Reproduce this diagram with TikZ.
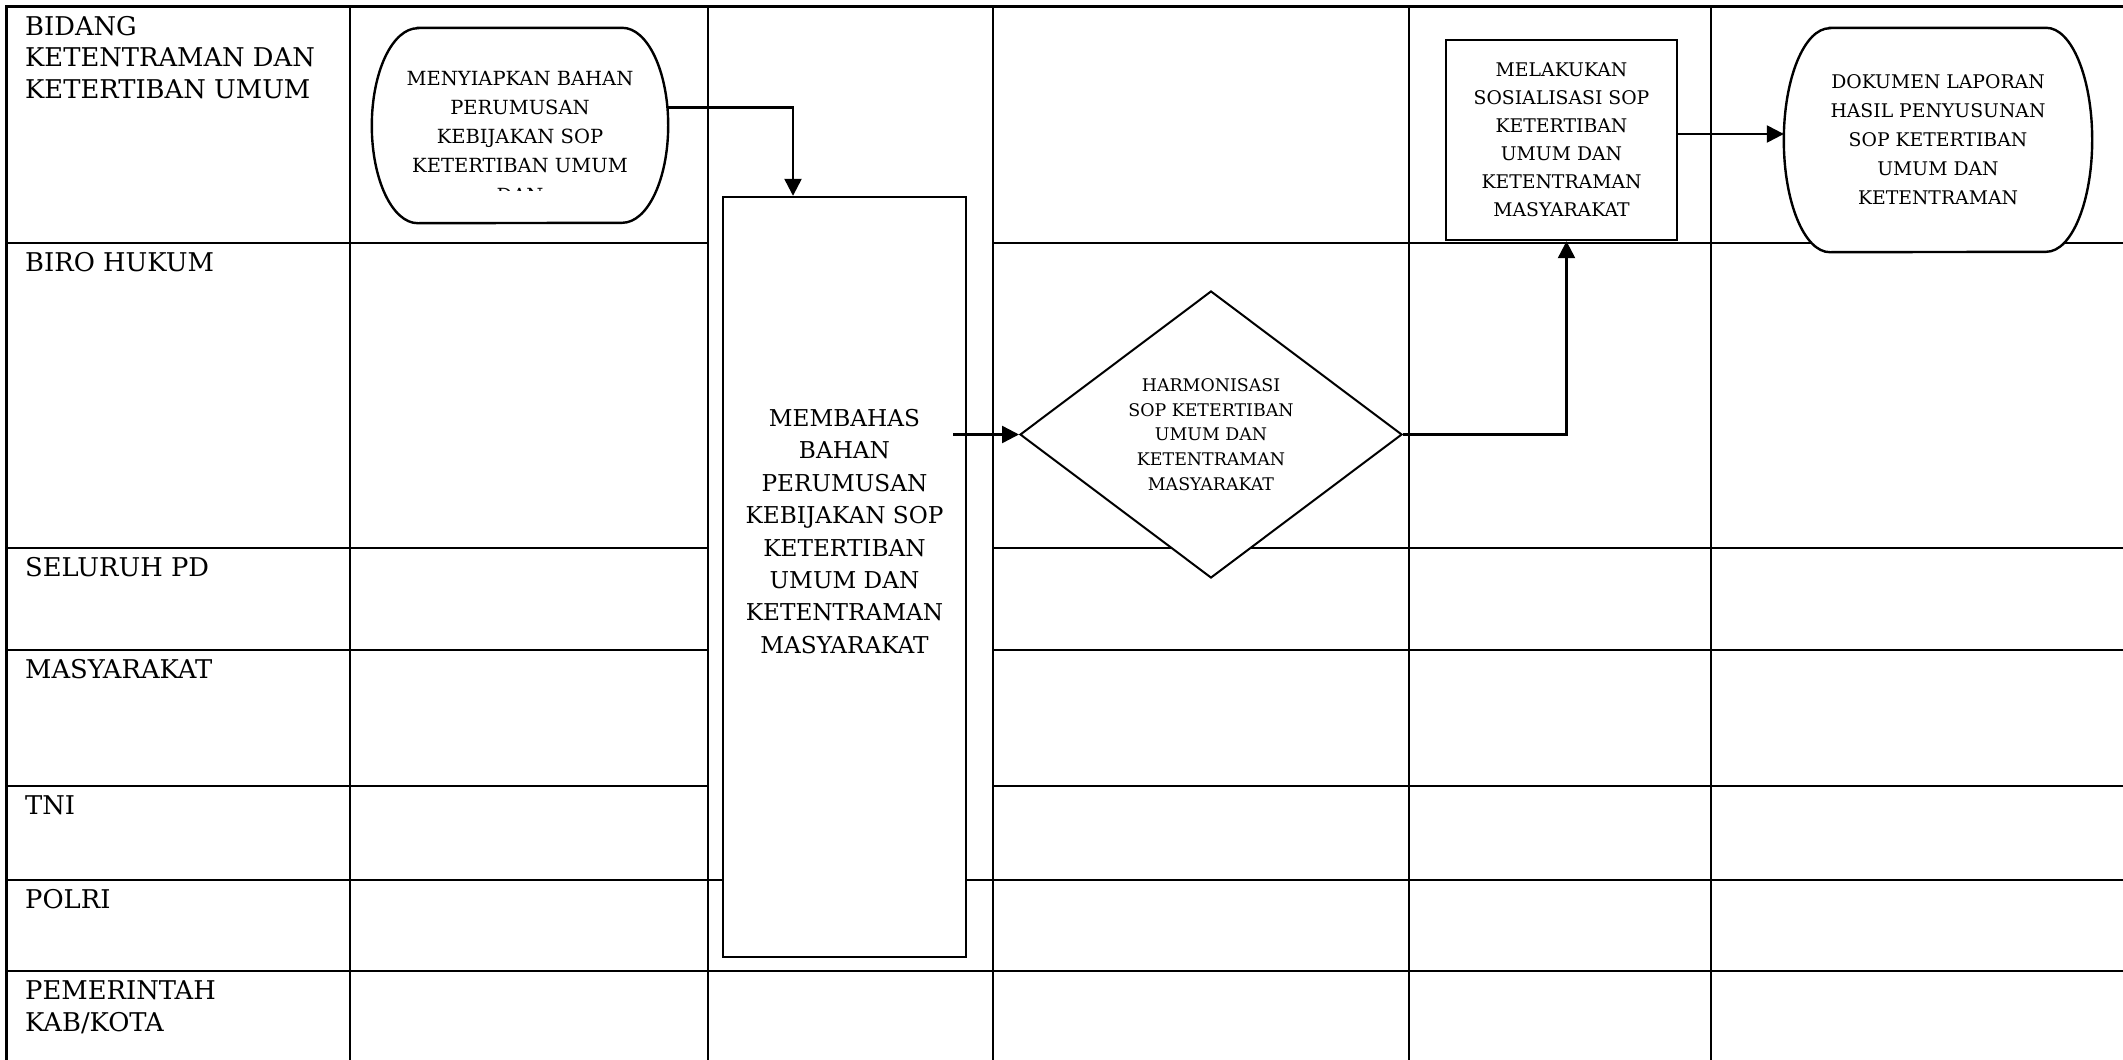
\documentclass[tikz,border=0pt]{standalone}
\usepackage{fontspec}
\setmainfont{DejaVu Serif}
\usepackage{tikz}
\usetikzlibrary{shapes,arrows.meta,backgrounds}

\tikzstyle{grid} = [line width=2.6pt, line cap=rect]
\tikzstyle{lanelabel} = [anchor=north west, inner sep=0pt, align=left, font=\fontsize{25.8}{31.5}\selectfont]
\tikzstyle{term} = [inner sep=0pt, align=center, font=\fontsize{19.5}{29.3}\selectfont]
\tikzstyle{termline} = [draw, line width=2.4pt, fill=white]
\tikzstyle{block} = [draw, line width=2.4pt, fill=white, rectangle, inner sep=0pt, align=center]
\tikzstyle{decision} = [draw, line width=2pt, fill=white, diamond, aspect=1.33, inner sep=0pt, align=center, minimum width=382pt, minimum height=287pt, font=\fontsize{17.4}{24.7}\selectfont]
\tikzstyle{arrow1} = [line width=2.4pt, -{Triangle[length=17pt,width=17pt]}]

\begin{document}
\begin{tikzpicture}[x=1pt, y=-1pt]
\useasboundingbox (0,0) rectangle (2123,1060);

% Place lanes
\begin{pgfonlayer}{background}
\draw[grid] (6.5,6.5) -- (2123,6.5);
\foreach \x in {6.5,350,708,993,1409,1711}
  \draw[grid] (\x,6.5) -- (\x,1060);
\foreach \y in {243,548,650,786} {
  \draw[grid] (6.5,\y) -- (708,\y);
  \draw[grid] (993,\y) -- (2123,\y);
}
\foreach \y in {880,971}
  \draw[grid] (6.5,\y) -- (2123,\y);
\end{pgfonlayer}

\foreach \y/\name/\txt in {6.5/bidang/{BIDANG\\KETENTRAMAN DAN\\KETERTIBAN UMUM}, 243/biro/{BIRO HUKUM}, 548/pd/{SELURUH PD}, 650/masy/{MASYARAKAT}, 786/tni/{TNI}, 880/polri/{POLRI}, 971/pemda/{PEMERINTAH\\KAB/KOTA}}
  \node[lanelabel] (\name) at (25,\y+9.5) {\txt};

% Place nodes
\node[term, minimum width=296pt, minimum height=195pt] (prep) at (520,125.5) {};
\begin{scope}
\clip (372,28) rectangle (668,190);
\node[term] (preptext) at (520,136.7) {MENYIAPKAN BAHAN\\PERUMUSAN\\KEBIJAKAN SOP\\KETERTIBAN UMUM\\DAN};
\end{scope}
\node[block, minimum width=243pt, minimum height=760pt] (discuss) at (844.5,577) {};
\node[align=center, inner sep=0pt, font=\fontsize{23.2}{32.4}\selectfont] (discusstext) at (844.5,531.5) {MEMBAHAS\\BAHAN\\PERUMUSAN\\KEBIJAKAN SOP\\KETERTIBAN\\UMUM DAN\\KETENTRAMAN\\MASYARAKAT};
\node[decision] (harmon) at (1211,434.5) {HARMONISASI\\SOP KETERTIBAN\\UMUM DAN\\KETENTRAMAN\\MASYARAKAT};
\node[block, minimum width=231pt, minimum height=200pt, font=\fontsize{18.8}{28}\selectfont] (social) at (1561.5,140) {MELAKUKAN\\SOSIALISASI SOP\\KETERTIBAN\\UMUM DAN\\KETENTRAMAN\\MASYARAKAT};
\node[term, minimum width=308pt, minimum height=224pt, font=\fontsize{18.8}{29}\selectfont] (report) at (1938,140) {DOKUMEN LAPORAN\\HASIL PENYUSUNAN\\SOP KETERTIBAN\\UMUM DAN\\KETENTRAMAN};

% Terminal outlines
\begin{pgfonlayer}{background}
\draw[termline] ([xshift=46pt]prep.north west) -- ([xshift=-46pt]prep.north east) arc[start angle=90, end angle=-90, x radius=46pt, y radius=97.5pt] -- ([xshift=46pt]prep.south west) arc[start angle=270, end angle=90, x radius=46pt, y radius=97.5pt] -- cycle;
\draw[termline] ([xshift=46pt]report.north west) -- ([xshift=-46pt]report.north east) arc[start angle=90, end angle=-90, x radius=46pt, y radius=112pt] -- ([xshift=46pt]report.south west) arc[start angle=270, end angle=90, x radius=46pt, y radius=112pt] -- cycle;
\end{pgfonlayer}

% Place lines
\coordinate (discussout) at ([xshift=-14pt]discuss.east);
\draw[arrow1] ([yshift=18pt]prep.east) -| ([xshift=-51.5pt]discuss.north);
\draw[arrow1] (discussout |- harmon.west) -- (harmon.west);
\draw[arrow1] (harmon.east) -| ([xshift=5pt]social.south);
\draw[arrow1] ([yshift=6pt]social.east) -- ([yshift=6pt]report.west);

\end{tikzpicture}
\end{document}
